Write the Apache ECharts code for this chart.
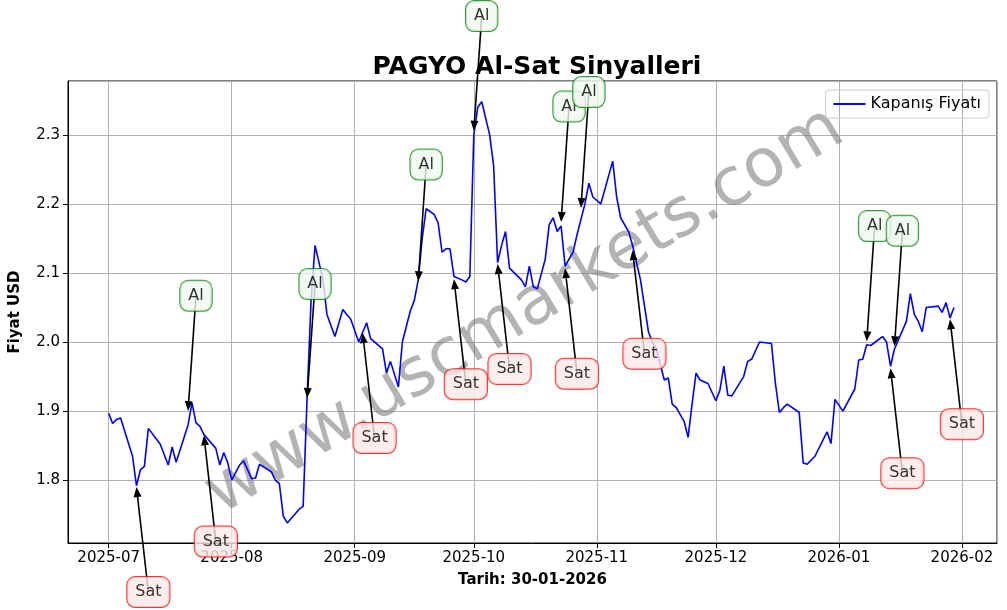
<!DOCTYPE html>
<html>
<head>
<meta charset="utf-8">
<script src="https://cdn.jsdelivr.net/npm/echarts@6/dist/echarts.min.js"></script>
<style>html,body{margin:0;padding:0;background:#fff}#chart{width:1007px;height:610px}</style>
</head>
<body>
<div id="chart"></div>
<script>
var dates = ['2025-07-01','2025-07-02','2025-07-03','2025-07-04','2025-07-07','2025-07-08','2025-07-09','2025-07-10','2025-07-11','2025-07-14','2025-07-16','2025-07-17','2025-07-18','2025-07-21','2025-07-22','2025-07-23','2025-07-24','2025-07-25','2025-07-28','2025-07-29','2025-07-30','2025-07-31','2025-08-01','2025-08-03','2025-08-04','2025-08-05','2025-08-06','2025-08-07','2025-08-08','2025-08-11','2025-08-12','2025-08-13','2025-08-14','2025-08-15','2025-08-18','2025-08-19','2025-08-20','2025-08-21','2025-08-22','2025-08-24','2025-08-25','2025-08-27','2025-08-29','2025-08-30','2025-08-31','2025-09-02','2025-09-04','2025-09-05','2025-09-08','2025-09-09','2025-09-10','2025-09-12','2025-09-13','2025-09-15','2025-09-16','2025-09-17','2025-09-18','2025-09-19','2025-09-21','2025-09-22','2025-09-23','2025-09-24','2025-09-25','2025-09-26','2025-09-28','2025-09-29','2025-09-30','2025-10-01','2025-10-02','2025-10-03','2025-10-05','2025-10-06','2025-10-07','2025-10-08','2025-10-09','2025-10-10','2025-10-13','2025-10-14','2025-10-15','2025-10-16','2025-10-17','2025-10-19','2025-10-20','2025-10-21','2025-10-22','2025-10-23','2025-10-24','2025-10-26','2025-10-27','2025-10-29','2025-10-30','2025-10-31','2025-11-02','2025-11-05','2025-11-06','2025-11-07','2025-11-09','2025-11-10','2025-11-12','2025-11-14','2025-11-15','2025-11-16','2025-11-18','2025-11-19','2025-11-20','2025-11-21','2025-11-23','2025-11-24','2025-11-25','2025-11-26','2025-11-27','2025-11-29','2025-12-01','2025-12-02','2025-12-03','2025-12-04','2025-12-05','2025-12-08','2025-12-09','2025-12-10','2025-12-12','2025-12-15','2025-12-16','2025-12-17','2025-12-18','2025-12-19','2025-12-22','2025-12-23','2025-12-24','2025-12-26','2025-12-29','2025-12-30','2025-12-31','2026-01-02','2026-01-05','2026-01-06','2026-01-07','2026-01-08','2026-01-09','2026-01-12','2026-01-13','2026-01-14','2026-01-15','2026-01-18','2026-01-19','2026-01-20','2026-01-21','2026-01-22','2026-01-23','2026-01-26','2026-01-27','2026-01-28','2026-01-29','2026-01-30'];
var prices = [1.897,1.882,1.888,1.890,1.835,1.792,1.815,1.820,1.875,1.852,1.822,1.848,1.826,1.880,1.912,1.883,1.878,1.866,1.846,1.822,1.840,1.825,1.800,1.822,1.828,1.815,1.802,1.803,1.823,1.812,1.800,1.795,1.748,1.738,1.758,1.762,1.920,2.060,2.140,2.090,2.040,2.008,2.047,2.040,2.033,2.000,2.028,2.005,1.990,1.955,1.972,1.935,2.000,2.045,2.060,2.090,2.150,2.193,2.185,2.173,2.130,2.135,2.135,2.095,2.090,2.087,2.095,2.300,2.340,2.348,2.300,2.255,2.115,2.140,2.160,2.107,2.090,2.080,2.110,2.080,2.077,2.120,2.170,2.180,2.160,2.168,2.110,2.130,2.155,2.200,2.230,2.210,2.200,2.262,2.210,2.180,2.160,2.140,2.090,2.015,2.000,1.990,1.945,1.948,1.910,1.905,1.885,1.862,1.910,1.955,1.945,1.940,1.915,1.930,1.965,1.923,1.922,1.950,1.972,1.975,2.000,1.998,1.940,1.898,1.905,1.910,1.898,1.825,1.823,1.835,1.870,1.853,1.917,1.900,1.932,1.974,1.975,1.996,1.995,2.008,2.000,1.965,1.990,2.030,2.070,2.040,2.030,2.015,2.050,2.052,2.043,2.057,2.035,2.050];

// signals: text, arrow tip (date, price), label (date, price)
var sigText = ['Sat','Sat','Al','Al','Sat','Al','Sat','Al','Sat','Al','Al','Sat','Sat','Al','Al','Sat','Sat'];
var sigTipDate = ['2025-07-08','2025-07-25','2025-07-21','2025-08-20','2025-09-03','2025-09-17','2025-09-26','2025-10-01','2025-10-07','2025-10-23','2025-10-28','2025-10-24','2025-11-10','2026-01-08','2026-01-15','2026-01-14','2026-01-29'];
var sigTipPrice = [1.790,1.865,1.900,1.919,2.013,2.088,2.091,2.306,2.113,2.174,2.194,2.107,2.133,2.001,1.994,1.962,2.033];
var sigLabDate = ['2025-07-11','2025-07-28','2025-07-23','2025-08-22','2025-09-06','2025-09-19','2025-09-29','2025-10-03','2025-10-10','2025-10-25','2025-10-30','2025-10-27','2025-11-13','2026-01-10','2026-01-17','2026-01-17','2026-02-01'];
var sigLabPrice = [1.638,1.711,2.067,2.084,1.861,2.257,1.939,2.472,1.961,2.341,2.362,1.954,1.983,2.168,2.161,1.810,1.881];

var font = 'DejaVu Sans';
var chart = echarts.init(document.getElementById('chart'));

var arrowData = [], labels = [];
for (var i = 0; i < sigText.length; i++) {
    arrowData.push([sigLabDate[i], sigLabPrice[i], sigTipDate[i], sigTipPrice[i]]);
    var buy = sigText[i] === 'Al';
    labels.push({
        value: [sigLabDate[i], sigLabPrice[i]],
        label: {
            show: true, position: 'inside', formatter: sigText[i],
            fontFamily: font, fontSize: 16, color: '#000',
            backgroundColor: buy ? '#f0f7f0' : '#fde8e8',
            borderColor: buy ? '#008000' : '#ff0000', borderWidth: 1,
            borderRadius: 8, padding: [7, 8]
        }
    });
}

function renderArrow(params, api) {
    var a = api.coord([api.value(0), api.value(1)]);
    var b = api.coord([api.value(2), api.value(3)]);
    var ang = Math.atan2(b[1] - a[1], b[0] - a[0]);
    var len = 10, w = 4;
    var bx = b[0] - len * Math.cos(ang), by = b[1] - len * Math.sin(ang);
    var px = -Math.sin(ang) * w, py = Math.cos(ang) * w;
    return {
        type: 'group',
        children: [{
            type: 'line', shape: {x1: a[0], y1: a[1], x2: bx, y2: by},
            style: {stroke: '#000', lineWidth: 1.6}
        }, {
            type: 'polygon', shape: {points: [[b[0], b[1]], [bx + px, by + py], [bx - px, by - py]]},
            style: {fill: '#000'}
        }]
    };
}

var option = {
    animation: false,
    title: {
        text: 'PAGYO Al-Sat Sinyalleri', left: 532, top: 50, textAlign: 'center',
        textStyle: {fontFamily: font, fontSize: 25, fontWeight: 'bold', color: '#000'}
    },
    legend: {
        right: 18, top: 90, data: ['Kapanış Fiyatı'],
        itemWidth: 32, itemHeight: 2, icon: 'rect', itemGap: 8,
        borderColor: '#ccc', borderWidth: 1, borderRadius: 3, padding: [6, 8],
        textStyle: {fontFamily: font, fontSize: 16, color: '#000'}
    },
    grid: {left: 68, right: 10, top: 81, bottom: 67, show: true, borderColor: '#000', borderWidth: 1},
    xAxis: {
        type: 'time', min: '2025-06-20T18:00', max: '2026-02-09T20:00', splitNumber: 8,
        name: 'Tarih: 30-01-2026', nameLocation: 'middle', nameGap: 30,
        nameTextStyle: {fontFamily: font, fontSize: 15, fontWeight: 'bold', color: '#000'},
        axisLine: {lineStyle: {color: '#000'}},
        axisTick: {show: true, lineStyle: {color: '#000'}},
        axisLabel: {formatter: '{yyyy}-{MM}', fontFamily: font, fontSize: 15, color: '#000', showMinLabel: false, showMaxLabel: false},
        splitLine: {show: true, lineStyle: {color: '#b0b0b0'}}
    },
    yAxis: {
        type: 'value', min: 1.709, max: 2.378,
        name: 'Fiyat USD', nameLocation: 'middle', nameGap: 45,
        nameTextStyle: {fontFamily: font, fontSize: 15, fontWeight: 'bold', color: '#000'},
        axisLine: {show: true, lineStyle: {color: '#000'}},
        axisTick: {show: true, lineStyle: {color: '#000'}},
        axisLabel: {fontFamily: font, fontSize: 15, color: '#000', showMinLabel: false, showMaxLabel: false,
            formatter: function (v) { return v.toFixed(1); }},
        splitLine: {show: true, lineStyle: {color: '#b0b0b0'}}
    },
    graphic: [{
        type: 'text', x: 525, y: 312, rotation: 31 * Math.PI / 180,
        style: {text: 'www.uscmarkets.com', fontFamily: font, fontSize: 67, fill: 'rgba(128,128,128,0.6)',
            align: 'center', verticalAlign: 'middle'},
        z: 1
    }],
    series: [{
        name: 'Kapanış Fiyatı', type: 'line', showSymbol: false, symbol: 'none',
        data: dates.map(function (d, i) { return [d, prices[i]]; }),
        lineStyle: {color: '#0000ff', width: 1.6}, itemStyle: {color: '#0000ff'},
        z: 3
    }, {
        type: 'custom', renderItem: renderArrow, data: arrowData, clip: false, silent: true,
        encode: {x: [0, 2], y: [1, 3]}, z: 5
    }, {
        type: 'scatter', symbolSize: 0, clip: false, silent: true,
        data: labels, z: 10
    }]
};
chart.setOption(option);
</script>
</body>
</html>
